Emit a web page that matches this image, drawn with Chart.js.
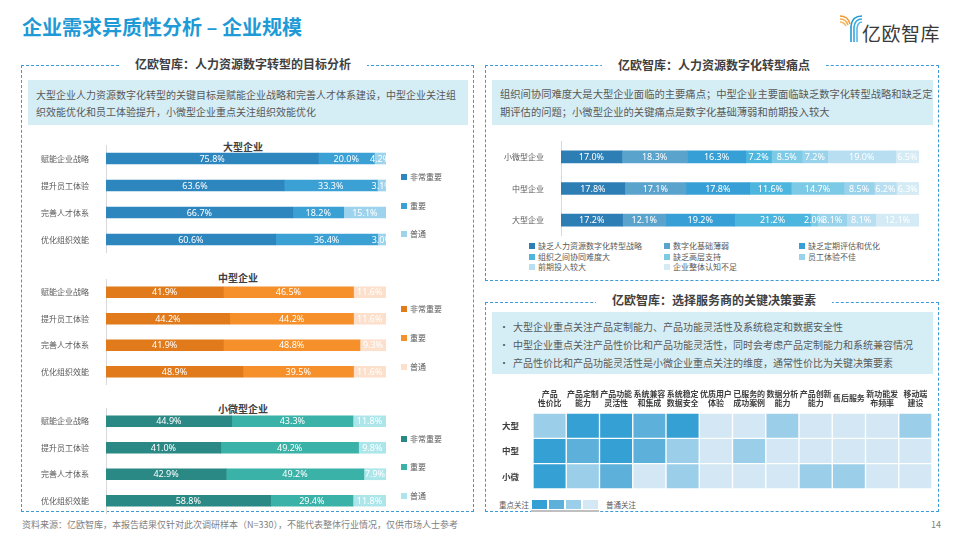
<!DOCTYPE html>
<html><head><meta charset="utf-8">
<script src="https://cdn.jsdelivr.net/npm/chart.js@4.4.1/dist/chart.umd.min.js"></script>
<style>
body{margin:0;width:960px;height:540px;position:relative;background:#fff;font-family:"Noto Sans CJK SC",sans-serif;overflow:hidden}
.abs{position:absolute}
.panel{position:absolute;border:1px dashed #3C9AD8;box-sizing:border-box}
.ptitle{position:absolute;transform:translate(-50%,-50%);background:#fff;padding:0 16px;font-size:12px;font-weight:bold;color:#404040;line-height:16px;white-space:nowrap}
.desc{position:absolute;background:#D5EEF6;box-sizing:border-box;color:#595959;font-size:10px;white-space:nowrap}
.ctitle{position:absolute;transform:translate(-50%,-50%);font-size:10px;font-weight:bold;color:#404040;white-space:nowrap}
.lg{position:absolute;font-size:8px;color:#595959;white-space:nowrap;transform:translateY(-50%);line-height:10px}
.lg i{display:inline-block;width:6px;height:6px;margin-right:3px;vertical-align:0px}
canvas{position:absolute}
</style></head>
<body>
<!-- main title -->
<div class="abs" style="left:22px;top:13px;font-size:20px;font-weight:bold;color:#1E9AD6;line-height:28px;white-space:nowrap">企业需求异质性分析 – 企业规模</div>
<!-- logo -->
<svg class="abs" style="left:838px;top:12px" width="26" height="32" viewBox="0 0 26 32">
 <g fill="none" stroke-width="1.6">
  <path d="M2 4 Q10 4 12 12" stroke="#F39A32"/>
  <path d="M2 7 Q8 7 10 13" stroke="#F5A94A"/>
  <path d="M2 10 Q6 10 8 14" stroke="#F7B860"/>
  <path d="M24 4 Q14 4 13 14 L13 30" stroke="#1E9AD6"/>
  <path d="M24 7 Q17 7 16 15 L16 30" stroke="#35A8DE"/>
  <path d="M24 10 Q20 10 19 16 L19 30" stroke="#5BB9E6"/>
 </g>
</svg>
<div class="abs" style="left:862px;top:20px;font-size:19px;color:#3A3A3A;line-height:26px;letter-spacing:0.5px;white-space:nowrap">亿欧智库</div>

<!-- left panel -->
<div class="panel" style="left:21px;top:65px;width:453px;height:447px"></div>
<div class="ptitle" style="left:243px;top:64px">亿欧智库：人力资源数字转型的目标分析</div>
<div class="desc" style="left:28px;top:80px;width:440px;height:45px;padding:6px 8px;line-height:17px">大型企业人力资源数字化转型的关键目标是赋能企业战略和完善人才体系建设，中型企业关注组<br>织效能优化和员工体验提升，小微型企业重点关注组织效能优化</div>

<div class="ctitle" style="left:243px;top:146px">大型企业</div>
<div class="ctitle" style="left:238px;top:277px">中型企业</div>
<div class="ctitle" style="left:243px;top:408px">小微型企业</div>
<canvas id="cLarge" width="452" height="108" style="left:22px;top:145px"></canvas>
<canvas id="cMid" width="452" height="106" style="left:22px;top:279px"></canvas>
<canvas id="cSmall" width="452" height="106" style="left:22px;top:408px"></canvas>
<div id="lgLeft"></div>

<!-- top right panel -->
<div class="panel" style="left:485px;top:65px;width:454px;height:216px"></div>
<div class="ptitle" style="left:714px;top:65px">亿欧智库：人力资源数字化转型痛点</div>
<div class="desc" style="left:492px;top:80px;width:441px;height:45px;padding:5px 8px;line-height:18px;font-size:10.3px">组织间协同难度大是大型企业面临的主要痛点；中型企业主要面临缺乏数字化转型战略和缺乏定<br>期评估的问题；小微型企业的关键痛点是数字化基础薄弱和前期投入较大</div>
<canvas id="cPain" width="452" height="95" style="left:486px;top:141px"></canvas>
<div id="lgPain"></div>

<!-- bottom right panel -->
<div class="panel" style="left:485px;top:302px;width:454px;height:210px"></div>
<div class="ptitle" style="left:714px;top:300px">亿欧智库：选择服务商的关键决策要素</div>
<div class="desc" style="left:492px;top:312px;width:441px;height:62px"></div>
<div id="bullets"></div>
<canvas id="cHeat" width="450" height="118" style="left:490px;top:378px"></canvas>
<div class="abs" style="left:499px;top:504px;transform:translateY(-50%);font-size:7.5px;color:#595959;white-space:nowrap">重点关注</div>
<div id="heatLg"></div>
<div class="abs" style="left:531px;top:510px;width:68px;height:2px;background:#BFBFBF"></div>
<div class="abs" style="left:606px;top:504px;transform:translateY(-50%);font-size:7.5px;color:#595959;white-space:nowrap">普通关注</div>

<!-- footer -->
<div class="abs" style="left:22px;top:524px;transform:translateY(-50%);font-size:9px;color:#7F7F7F;white-space:nowrap">资料来源：亿欧智库，本报告结果仅针对此次调研样本（N=330），不能代表整体行业情况，仅供市场人士参考</div>
<div class="abs" style="left:931px;top:524px;transform:translateY(-50%);font-size:9px;color:#7F7F7F">14</div>

<script>
// ---------- data ----------
const goalItems = ['赋能企业战略','提升员工体验','完善人才体系','优化组织效能'];
const importanceLevels = ['非常重要','重要','普通'];
const largeVeryImportant = [75.8, 63.6, 66.7, 60.6];
const largeImportant     = [20.0, 33.3, 18.2, 36.4];
const largeNormal        = [4.2, 3.1, 15.1, 3.0];
const midVeryImportant   = [41.9, 44.2, 41.9, 48.9];
const midImportant       = [46.5, 44.2, 48.8, 39.5];
const midNormal          = [11.6, 11.6, 9.3, 11.6];
const smallVeryImportant = [44.9, 41.0, 42.9, 58.8];
const smallImportant     = [43.3, 49.2, 49.2, 29.4];
const smallNormal        = [11.8, 9.8, 7.9, 11.8];

const painRows = ['小微型企业','中型企业','大型企业'];
const painNames = ['缺乏人力资源数字化转型战略','数字化基础薄弱','缺乏定期评估和优化','组织之间协同难度大','缺乏高层支持','员工体验不佳','前期投入较大','企业整体认知不足'];
const painStrategy   = [17.0, 17.8, 17.2];
const painFoundation = [18.3, 17.1, 12.1];
const painEvaluation = [16.3, 17.8, 19.2];
const painCollab     = [7.2, 11.6, 21.2];
const painLeadership = [8.5, 14.7, 2.0];
const painExperience = [7.2, 8.5, 8.1];
const painInvestment = [19.0, 6.2, 8.1];
const painAwareness  = [6.5, 6.3, 12.1];

const decisionPoints = [
  '大型企业重点关注产品定制能力、产品功能灵活性及系统稳定和数据安全性',
  '中型企业重点关注产品性价比和产品功能灵活性，同时会考虑产品定制能力和系统兼容情况',
  '产品性价比和产品功能灵活性是小微企业重点关注的维度，通常性价比为关键决策要素'
];
const heatCols = [['产品','性价比'],['产品定制','能力'],['产品功能','灵活性'],['系统兼容','和集成'],['系统稳定','数据安全'],['优质用户','体验'],['已服务的','成功案例'],['数据分析','能力'],['产品创新','能力'],'售后服务',['新功能发','布频率'],['移动端','建设']];
const heatRows = ['大型','中型','小微'];
// attention level 4 = 重点关注 ... 1 = 普通关注
const heatLarge = [2,4,4,3,4,1,1,2,1,1,1,2];
const heatMid   = [4,3,4,3,2,1,2,1,1,1,1,1];
const heatSmall = [4,2,3,1,2,1,1,1,2,2,1,1];

// ---------- styles ----------
const FONT = '"Noto Sans CJK SC", sans-serif';
Chart.defaults.font.family = FONT;
Chart.defaults.animation = false;
const blueSet   = ['#2E86BF','#3BA0D4','#9DD3EC'];
const orangeSet = ['#E07A1B','#F5902B','#FCE0CC'];
const tealSet   = ['#2A8984','#3AB2A8','#ADE6EA'];
const painColors = ['#2E7EB6','#5AA3CD','#36A0D6','#4DB6DF','#7CCAE6','#98D2EB','#B8DFF1','#D4EBF5'];
const heatShades = ['#D3E8F4','#9BCFE9','#5DB0DA','#35A0D4'];

function noPad(s) { s.paddingTop = 0; s.paddingBottom = 0; s.paddingLeft = 0; s.paddingRight = 0; }

const barLabels = {
  id: 'barLabels',
  afterDatasetsDraw(chart) {
    const ctx = chart.ctx;
    ctx.save();
    ctx.font = '9px "Noto Sans", sans-serif';
    ctx.fillStyle = '#fff';
    ctx.textAlign = 'center';
    ctx.textBaseline = 'middle';
    chart.data.datasets.forEach((ds, i) => {
      chart.getDatasetMeta(i).data.forEach((el, j) => {
        const p = el.getProps(['x','y','base'], true);
        ctx.fillText(ds.data[j].toFixed(1) + '%', (p.x + p.base) / 2, p.y + 0.5);
      });
    });
    ctx.restore();
  }
};

function goalChart(id, series, colors) {
  new Chart(document.getElementById(id), {
    type: 'bar',
    data: {
      labels: goalItems,
      datasets: series.map((s, i) => ({ label: importanceLevels[i], data: s, backgroundColor: colors[i], barThickness: 11 }))
    },
    options: {
      responsive: false, indexAxis: 'y',
      layout: { padding: { right: 88, top: 0, bottom: 0 } },
      plugins: { legend: { display: false }, tooltip: { enabled: false } },
      scales: {
        x: { stacked: true, min: 0, max: 100, display: false },
        y: { stacked: true, grid: { display: false }, border: { display: true, color: '#D9D9D9' },
             ticks: { font: { size: 8 }, color: '#595959', padding: 9 },
             afterFit(s) { s.width = 84; noPad(s); } }
      }
    },
    plugins: [barLabels]
  });
}
goalChart('cLarge', [largeVeryImportant, largeImportant, largeNormal], blueSet);
goalChart('cMid',   [midVeryImportant, midImportant, midNormal], orangeSet);
goalChart('cSmall', [smallVeryImportant, smallImportant, smallNormal], tealSet);

// left legends
(function(){
  const sets = [[blueSet,[177,206,234]],[orangeSet,[309,338,367]],[tealSet,[439,467,496]]];
  let h = '';
  sets.forEach(([cols, ys]) => {
    importanceLevels.forEach((n, i) => {
      h += `<div class="lg" style="left:401px;top:${ys[i]}px"><i style="background:${cols[i]}"></i>${n}</div>`;
    });
  });
  document.getElementById('lgLeft').innerHTML = h;
})();

// pain chart
new Chart(document.getElementById('cPain'), {
  type: 'bar',
  data: {
    labels: painRows,
    datasets: [painStrategy, painFoundation, painEvaluation, painCollab, painLeadership, painExperience, painInvestment, painAwareness]
      .map((d, i) => ({ label: painNames[i], data: d, backgroundColor: painColors[i], barThickness: 12 }))
  },
  options: {
    responsive: false, indexAxis: 'y',
    layout: { padding: { right: 19, top: 0, bottom: 0 } },
    plugins: { legend: { display: false }, tooltip: { enabled: false } },
    scales: {
      x: { stacked: true, min: 0, max: 100, display: false },
      y: { stacked: true, grid: { display: false }, border: { display: true, color: '#D9D9D9' },
           ticks: { font: { size: 8 }, color: '#595959', padding: 9 },
           afterFit(s) { s.width = 75; noPad(s); } }
    }
  },
  plugins: [barLabels]
});
(function(){
  const xs = [529, 664, 799], ys = [246, 256.5, 267];
  let h = '';
  painNames.forEach((n, i) => {
    h += `<div class="lg" style="left:${xs[i%3]}px;top:${ys[Math.floor(i/3)]}px"><i style="background:${painColors[i]}"></i>${n}</div>`;
  });
  document.getElementById('lgPain').innerHTML = h;
})();

// bullets
(function(){
  let h = '';
  decisionPoints.forEach((t, i) => {
    const y = 326 + i * 18;
    h += `<div class="abs" style="left:499px;top:${y}px;transform:translateY(-50%);font-size:10px;color:#595959">•</div>`;
    h += `<div class="abs" style="left:513px;top:${y}px;transform:translateY(-50%);font-size:10px;color:#595959;white-space:nowrap">${t}</div>`;
  });
  document.getElementById('bullets').innerHTML = h;
  let l = '';
  [3,2,1,0].forEach((k, i) => {
    l += `<div class="abs" style="left:${532 + i*17}px;top:500px;width:15px;height:9px;background:${heatShades[k]}"></div>`;
  });
  document.getElementById('heatLg').innerHTML = l;
})();

// heatmap
const heatCell = 1;
new Chart(document.getElementById('cHeat'), {
  type: 'bar',
  data: {
    labels: heatCols,
    datasets: [heatSmall, heatMid, heatLarge].map((lv, i) => ({
      label: heatRows[2 - i],
      data: lv.map(() => heatCell),
      backgroundColor: lv.map(v => heatShades[v - 1]),
      borderColor: '#fff', borderWidth: 1, borderSkipped: false,
      barPercentage: 1, categoryPercentage: 1
    }))
  },
  options: {
    responsive: false,
    layout: { padding: { right: 8, top: 0, bottom: 7 } },
    plugins: { legend: { display: false }, tooltip: { enabled: false } },
    scales: {
      x: { position: 'top', stacked: true, grid: { display: false }, border: { display: false },
           ticks: { font: { size: 8, weight: 'bold', lineHeight: 1.15 }, color: '#404040', maxRotation: 0, autoSkip: false, padding: 2, crossAlign: 'center' },
           afterFit(s) { s.height = 35; noPad(s); } },
      y: { stacked: true, min: 0, max: 3, display: false },
      rows: { type: 'category', labels: heatRows, position: 'left', offset: true,
              grid: { display: false }, border: { display: false },
              ticks: { font: { size: 8.5, weight: 'bold' }, color: '#404040', padding: 6 },
              afterFit(s) { s.width = 43; noPad(s); } }
    }
  }
});
</script>
</body></html>
